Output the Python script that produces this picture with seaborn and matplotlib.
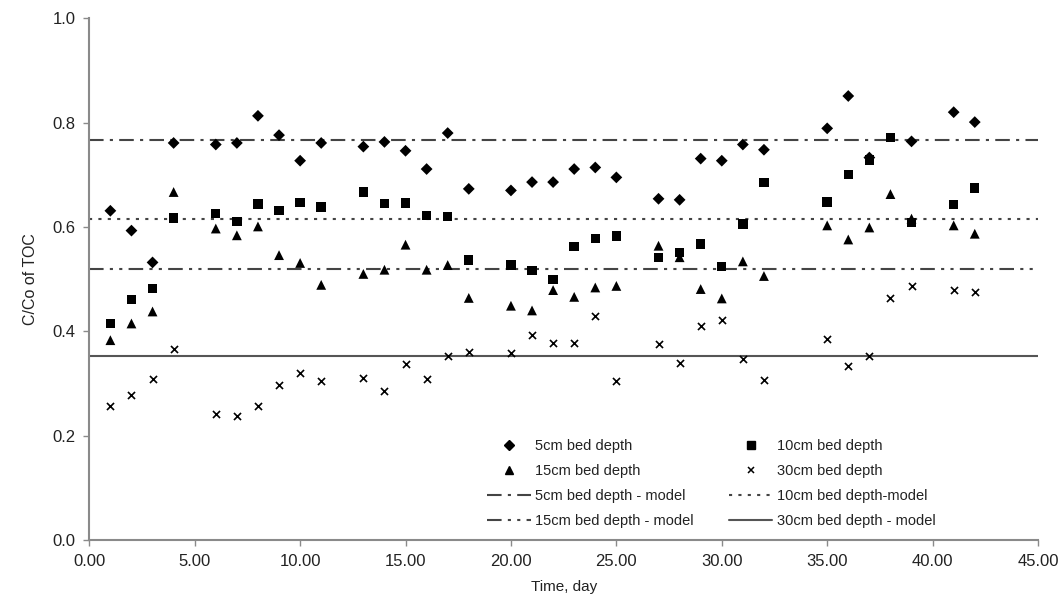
import numpy as np
import pandas as pd
import matplotlib
matplotlib.use("Agg")
import matplotlib.pyplot as plt
import seaborn as sns
from matplotlib.lines import Line2D

# dias de amostragem e valores C/Co
dias_5 = [1, 2, 3, 4, 6, 7, 8, 9, 10, 11, 13, 14, 15, 16, 17, 18, 20, 21, 22,
          23, 24, 25, 27, 28, 29, 30, 31, 32, 35, 36, 37, 39, 41, 42]
cc_5 = [0.631, 0.593, 0.532, 0.761, 0.758, 0.761, 0.813, 0.776, 0.727, 0.761,
        0.754, 0.763, 0.746, 0.711, 0.780, 0.673, 0.670, 0.686, 0.686, 0.711,
        0.714, 0.695, 0.654, 0.652, 0.731, 0.727, 0.758, 0.748, 0.789, 0.851,
        0.733, 0.764, 0.820, 0.801]

dias = [1, 2, 3, 4, 6, 7, 8, 9, 10, 11, 13, 14, 15, 16, 17, 18, 20, 21, 22,
        23, 24, 25, 27, 28, 29, 30, 31, 32, 35, 36, 37, 38, 39, 41, 42]
cc_10 = [0.415, 0.461, 0.482, 0.617, 0.626, 0.611, 0.644, 0.632, 0.647, 0.638,
         0.667, 0.645, 0.646, 0.622, 0.620, 0.537, 0.527, 0.516, 0.499, 0.563,
         0.578, 0.583, 0.542, 0.551, 0.567, 0.524, 0.606, 0.685, 0.648, 0.701,
         0.728, 0.771, 0.608, 0.643, 0.675]
cc_15 = [0.383, 0.415, 0.438, 0.667, 0.597, 0.584, 0.601, 0.546, 0.531, 0.489,
         0.510, 0.518, 0.566, 0.518, 0.527, 0.464, 0.449, 0.440, 0.479, 0.466,
         0.484, 0.487, 0.564, 0.542, 0.481, 0.463, 0.534, 0.506, 0.603, 0.576,
         0.599, 0.663, 0.616, 0.603, 0.587]
cc_30 = [0.256, 0.277, 0.309, 0.366, 0.242, 0.238, 0.256, 0.297, 0.320, 0.304,
         0.311, 0.286, 0.338, 0.309, 0.353, 0.360, 0.359, 0.392, 0.377, 0.378,
         0.429, 0.305, 0.376, 0.339, 0.410, 0.422, 0.346, 0.307, 0.386, 0.334,
         0.353, 0.464, 0.487, 0.479, 0.475]

# valores do modelo (linhas horizontais)
modelo = {"5cm": 0.767, "10cm": 0.616, "15cm": 0.519, "30cm": 0.353}

x_ticks = np.arange(0, 46, 5)
y_ticks = np.arange(0, 1.01, 0.2)

sns.set_theme(style="white")
plt.rcParams["font.family"] = ["Liberation Sans", "DejaVu Sans"]

fig = plt.figure(figsize=(10.63, 6.07), dpi=100)
ax = fig.add_axes([0.084, 0.1104, 0.8925, 0.8595])

cor_eixo = "#8a8a8a"
cor_txt = "#222222"

df5 = pd.DataFrame({"dia": dias_5, "cc": cc_5})
df = pd.DataFrame({"dia": dias, "c10": cc_10, "c15": cc_15, "c30": cc_30})

sns.scatterplot(data=df5, x="dia", y="cc", marker="D", s=36, color="black",
                edgecolor="none", ax=ax, zorder=3)
sns.scatterplot(data=df, x="dia", y="c10", marker="s", s=46, color="black",
                edgecolor="none", ax=ax, zorder=3)
sns.scatterplot(data=df, x="dia", y="c15", marker="^", s=50, color="black",
                edgecolor="none", ax=ax, zorder=3)
sns.scatterplot(data=df, x="dia", y="c30", marker="x", s=26, color="black",
                linewidth=1.2, ax=ax, zorder=3)

# linhas do modelo
estilos = {
    "5cm": (0, (7, 3, 1.5, 3)),
    "10cm": (0, (1.5, 3)),
    "15cm": (0, (7, 3, 1.5, 3, 1.5, 3)),
    "30cm": "-",
}
cor_linha = {"5cm": "#444444", "10cm": "#444444", "15cm": "#444444", "30cm": "#555555"}
for k, v in modelo.items():
    ax.axhline(v, color=cor_linha[k], lw=1.5, ls=estilos[k], zorder=2)

ax.set_xlim(0, 45)
ax.set_ylim(0, 1.0)
ax.set_xticks(x_ticks)
ax.set_xticklabels([f"{t:.2f}" for t in x_ticks])
ax.set_yticks(y_ticks)
ax.set_yticklabels([f"{t:.1f}" for t in y_ticks])

for s in ["top", "right"]:
    ax.spines[s].set_visible(False)
for s in ["left", "bottom"]:
    ax.spines[s].set_color(cor_eixo)
    ax.spines[s].set_linewidth(1.5)

ax.tick_params(axis="both", direction="out", length=4, width=1, color=cor_eixo,
               labelsize=12, labelcolor=cor_txt, pad=6, left=True, bottom=True)
ax.set_xlabel("Time, day", fontsize=11, color=cor_txt, labelpad=8)
ax.set_ylabel("C/Co of TOC", fontsize=11.5, color=cor_txt, labelpad=10)

# legenda em duas colunas (ordem por coluna)
h_5 = Line2D([], [], marker="D", color="black", ls="none", markersize=5)
h_10 = Line2D([], [], marker="s", color="black", ls="none", markersize=6)
h_15 = Line2D([], [], marker="^", color="black", ls="none", markersize=6)
h_30 = Line2D([], [], marker="x", color="black", ls="none", markersize=5, mew=1.1)
m_5 = Line2D([], [], color="#444444", lw=1.5, ls=estilos["5cm"])
m_10 = Line2D([], [], color="#444444", lw=1.5, ls=estilos["10cm"])
m_15 = Line2D([], [], color="#444444", lw=1.5, ls=estilos["15cm"])
m_30 = Line2D([], [], color="#555555", lw=1.5, ls="-")

handles = [h_5, h_15, m_5, m_15, h_10, h_30, m_10, m_30]
labels = ["5cm bed depth", "15cm bed depth", "5cm bed depth - model",
          "15cm bed depth - model", "10cm bed depth", "30cm bed depth",
          "10cm bed depth-model", "30cm bed depth - model"]
leg = ax.legend(handles, labels, ncol=2, frameon=False, fontsize=10.5,
                loc="lower left", bbox_to_anchor=(0.413, 0.012),
                handlelength=3.0, handletextpad=0.3, columnspacing=2.4,
                labelspacing=0.75, borderaxespad=0)
for t in leg.get_texts():
    t.set_color(cor_txt)

fig.savefig("out.png", dpi=100)
